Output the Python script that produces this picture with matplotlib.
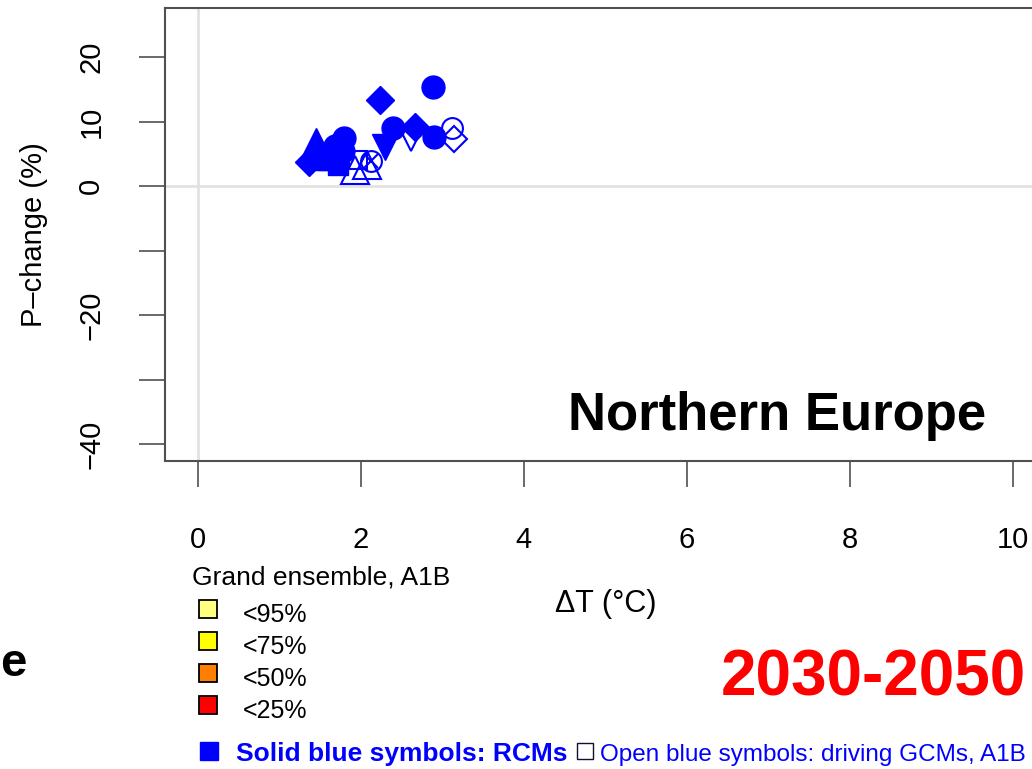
import matplotlib
matplotlib.use('Agg')
import matplotlib.pyplot as plt
from matplotlib.patches import Rectangle

# RCM results, solid symbols (dT in degC, P-change in %)
rcm_dt = [2.24, 2.89, 2.40, 2.66, 2.90, 2.30, 1.80, 1.45, 1.37, 1.60, 1.72, 1.58, 1.78, 1.50, 1.68]
rcm_dp = [13.3, 15.3, 9.0, 9.1, 7.6, 6.0, 7.4, 6.8, 3.7, 4.0, 3.2, 4.6, 5.5, 4.6, 6.2]
rcm_marker = ['D', 'o', 'o', 'D', 'o', 'v', 'o', '^', 'D', 's', 's', '^', 'o', 's', 'o']

# driving GCMs, open symbols
gcm_dt = [1.93, 1.97, 2.12, 2.08, 2.62, 3.12, 3.14]
gcm_dp = [2.5, 4.0, 3.9, 3.2, 7.1, 9.0, 7.3]
gcm_marker = ['^', 's', 'ox', '^', 'v', 'o', 'D']

legend_title = 'Grand ensemble, A1B'
legend_labels = ['<95%', '<75%', '<50%', '<25%']
legend_colors = ['#FFFF80', '#FFFF00', '#FF8000', '#FF0000']

xticks = [0, 2, 4, 6, 8, 10]
yticks = [20, 10, 0, -10, -20, -30, -40]
ytick_labels = ['20', '10', '0', '', '\u221220', '', '\u221240']

W, H = 1032, 769
BLUE = '#0000FF'
GREY = '#505050'

plt.rcParams['font.family'] = ['Liberation Sans', 'DejaVu Sans']


def fx(x):
    return x / W


def fy(y):
    return 1 - y / H


solid_ms = {'o': 16.5, 'D': 14, '^': 20, 'v': 18.5, 's': 14}
open_ms = {'o': 15, 'D': 13, '^': 19.5, 'v': 16, 's': 13}

fig = plt.figure(figsize=(W / 100, H / 100), dpi=100)
ax = fig.add_axes([fx(165), fy(461), fx(1046 - 165), (461 - 8) / H])

ax.axhline(0, color='#E2E2E2', lw=2, zorder=0)
ax.axvline(0, color='#E2E2E2', lw=2, zorder=0)

for x, y, m in zip(rcm_dt, rcm_dp, rcm_marker):
    ax.plot(x, y, m, color=BLUE, mec=BLUE, ms=solid_ms[m], zorder=3)

for x, y, m in zip(gcm_dt, gcm_dp, gcm_marker):
    if m == 'ox':
        ax.plot(x, y, 'o', mfc='none', mec=BLUE, mew=1.5, ms=open_ms['o'], zorder=4)
        ax.plot(x, y, 'x', color=BLUE, mew=1.5, ms=10.5, zorder=4)
    else:
        ax.plot(x, y, m, mfc='none', mec=BLUE, mew=1.5, ms=open_ms[m], zorder=4)

ax.set_xlim(-0.4, 10.4)
ax.set_ylim(-42.6, 27.6)
ax.set_xticks(xticks)
ax.set_xticklabels([str(t) for t in xticks], fontsize=21)
ax.set_yticks(yticks)
ax.set_yticklabels(ytick_labels, fontsize=21, rotation=90, va='center')
ax.tick_params(axis='x', length=19, width=1.2, color=GREY, pad=28)
ax.tick_params(axis='y', length=19, width=1.2, color=GREY, pad=24)
for s in ax.spines.values():
    s.set_color(GREY)
    s.set_linewidth(1.5)

ax.set_xlabel('\u0394T (\u00b0C)', fontsize=22)
ax.xaxis.set_label_coords((606 - 165) / 881, (461 - 604) / 453)
ax.xaxis.label.set_va('center')
ax.set_ylabel('P\u2013change (%)', fontsize=21)
ax.yaxis.set_label_coords((34 - 165) / 881, 0.5)
ax.yaxis.label.set_va('center')

fig.text(fx(777), fy(430), 'Northern Europe', fontsize=38, fontweight='bold',
         ha='center', va='baseline')

# grand ensemble legend
fig.text(fx(192), fy(585), legend_title, fontsize=19, va='baseline')
for i, (lab, col) in enumerate(zip(legend_labels, legend_colors)):
    top = 600 + i * 32
    fig.patches.append(Rectangle((fx(199), fy(top + 18)), 18 / W, 18 / H,
                                 transform=fig.transFigure, facecolor=col,
                                 edgecolor='black', lw=1.3))
    fig.text(fx(243), fy(top + 22), lab, fontsize=18, va='baseline')

fig.text(fx(873), fy(695), '2030-2050', fontsize=46, fontweight='bold',
         color='#FF0000', ha='center', va='baseline')
fig.text(fx(0), fy(676), 'e', fontsize=34, fontweight='bold', va='baseline')

# bottom caption
fig.patches.append(Rectangle((fx(200), fy(760)), 18 / W, 18 / H,
                             transform=fig.transFigure, facecolor=BLUE, edgecolor=BLUE))
fig.patches.append(Rectangle((fx(577), fy(759)), 16 / W, 16 / H,
                             transform=fig.transFigure, facecolor='none',
                             edgecolor='#101030', lw=1))
fig.text(fx(236), fy(761), 'Solid blue symbols: RCMs', fontsize=19,
         fontweight='bold', color=BLUE, va='baseline')
fig.text(fx(600), fy(761), 'Open blue symbols: driving GCMs, A1B', fontsize=17.5,
         color=BLUE, va='baseline')

fig.savefig('out.png', dpi=100)
